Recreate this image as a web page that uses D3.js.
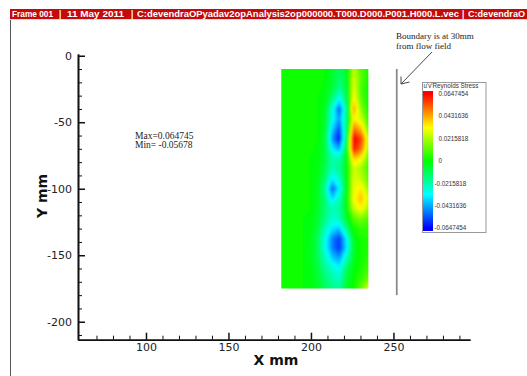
<!DOCTYPE html>
<html>
<head>
<meta charset="utf-8">
<script src="https://cdn.jsdelivr.net/npm/d3@7"></script>
<style>
  body { margin: 0; background: #fff; }
  svg { display: block; }
</style>
</head>
<body>
<svg id="chart" width="527" height="376"></svg>
<script>
// ---- measured u'v' Reynolds stress on the PIV grid (values in 1e-3) ----
const gridX = [182, 186.4, 190.8, 195.2, 199.6, 204, 208.4, 212.8, 217.2, 221.6, 226, 230.4, 234.8];
const gridY = [-10, -17.5, -25, -32.5, -40, -47.5, -55, -62.5, -70, -77.5, -85, -92.5,
               -100, -107.5, -115, -122.5, -130, -137.5, -145, -152.5, -160, -167.5, -175];
const stressUnit = 1e-3;
const stressRows = [
  [1,1,1,1,1, 1,  0,  -5, -12,  -5, 24, 10,  3],
  [1,1,1,1,1, 1,  0,  -6, -14,  -6, 27, 10,  3],
  [1,1,1,1,1, 1, -1,  -8, -20,  -8, 29,  8,  2],
  [1,1,1,1,1, 0, -2, -16, -34, -12, 34, 10,  2],
  [1,1,1,1,1, 0, -4, -28, -54, -20, 44, 16,  3],
  [1,1,1,1,1, 0, -5, -30, -46, -16, 34, 26,  6],
  [1,1,1,1,1, 0, -6, -38, -56, -16, 50, 40, 12],
  [1,1,1,1,1, 0, -8, -46, -64, -12, 66, 56, 24],
  [1,1,1,1,1,-1, -8, -34, -44,  -8, 62, 50, 20],
  [1,1,1,1,0,-1, -8, -22, -22,  -4, 38, 32, 12],
  [1,1,1,1,0,-2,-10, -24, -18,  -2, 26, 20,  8],
  [1,1,1,1,0,-3,-14, -36, -26,  -3, 28, 24, 12],
  [1,1,1,1,0,-4,-20, -54, -34,  -4, 30, 35, 18],
  [1,1,1,1,0,-4,-16, -38, -24,  -2, 32, 40, 26],
  [1,1,1,1,0,-5,-15, -24, -20,  -2, 24, 33, 20],
  [1,1,1,0,-1,-6,-17, -26, -24,  -6, 10, 15, 10],
  [1,1,1,0,-2,-8,-24, -36, -40, -18,  2,  6,  6],
  [1,1,1,0,-3,-11,-30,-48, -58, -34, -4,  3,  4],
  [1,1,1,0,-3,-11,-30,-48, -58, -36, -6,  2,  4],
  [1,1,1,0,-3,-10,-24,-38, -44, -24, -4,  2,  5],
  [1,1,1,0,-2,-8,-19, -26, -32, -13, -2,  3,  8],
  [1,1,1,0,-2,-6,-14, -21, -26,  -8,  0,  6, 14],
  [1,1,1,0,-1,-5,-12, -17, -20,  -6,  2, 12, 30]
];

// ---- axes ----
const xTicks = [100, 150, 200, 250];
const yTicks = [0, -50, -100, -150, -200];
const xMinorTicks = [70, 80, 90, 110, 120, 130, 140, 160, 170, 180, 190, 210, 220, 230, 240, 260, 270, 280, 290];
const yMinorTicks = [-10, -20, -30, -40, -60, -70, -80, -90, -110, -120, -130, -140, -160, -170, -180, -190, -210];

// ---- contour legend ----
const legendLevels = [0.0647454, 0.0431636, 0.0215818, 0, -0.0215818, -0.0431636, -0.0647454];
const colorStops = [-0.0647454, -0.0323727, 0, 0.0323727, 0.0647454];
const colorRange = ["#0000ff", "#00ffff", "#00ff00", "#ffff00", "#ff0000"];

// ---- annotations ----
const boundaryX = 252;
const boundaryY = [-10, -180];
const statsLines = ["Max=0.064745", "Min= -0.05678"];
const boundaryNote = ["Boundary is at 30mm", "from flow field"];
const headerParts = [
  { text: "Frame 001", x: 12 },
  { text: "|", x: 59 },
  { text: "11 May 2011", x: 67, len: 57 },
  { text: "|", x: 131 },
  { text: "C:devendraOPyadav2opAnalysis2op000000.T000.D000.P001.H000.L.vec", x: 137, len: 322 },
  { text: "|", x: 462 },
  { text: "C:devendraO", x: 468, len: 57 }
];

const svg = d3.select("#chart");

// scales
const xs = d3.scaleLinear().domain([58.8, 296.4]).range([78, 470]);
const ys = d3.scaleLinear().domain([1.3, -213.5]).range([54, 339.7]);
const color = d3.scaleLinear().domain(colorStops).range(colorRange).clamp(true);

// header bar
svg.append("rect").attr("x", 10).attr("y", 9).attr("width", 517).attr("height", 10).attr("fill", "#c40a0a");
const header = svg.append("g")
  .attr("font-family", "Liberation Sans, Arial, sans-serif")
  .attr("font-weight", "bold").attr("font-size", 8.3).attr("fill", "#fff");
headerParts.forEach(p => {
  const t = header.append("text").attr("x", p.x).attr("y", 17).text(p.text);
  if (p.len) t.attr("textLength", p.len).attr("lengthAdjust", "spacingAndGlyphs");
});
// frame edges
svg.append("line").attr("x1", 10.5).attr("x2", 10.5).attr("y1", 19).attr("y2", 376)
  .attr("stroke", "#555").attr("stroke-width", 1);
svg.append("line").attr("x1", 10).attr("x2", 527).attr("y1", 19.5).attr("y2", 19.5)
  .attr("stroke", "#ddd").attr("stroke-width", 1);

// ---- flood contour of the stress field ----
const nx = gridX.length, ny = gridY.length;
const flat = stressRows.flat();
const dx = gridX[1] - gridX[0], dy = gridY[1] - gridY[0];
const thresholds = d3.range(-66, 67, 2);
const contours = d3.contours().size([nx, ny]).thresholds(thresholds)(flat);
const proj = d3.geoTransform({
  point(gx, gy) {
    this.stream.point(xs(gridX[0] + (gx - 0.5) * dx), ys(gridY[0] + (gy - 0.5) * dy));
  }
});
const path = d3.geoPath(proj);

const defs = svg.append("defs");
defs.append("clipPath").attr("id", "fieldClip").append("rect")
  .attr("x", xs(gridX[0])).attr("y", ys(gridY[0]))
  .attr("width", xs(gridX[nx - 1]) - xs(gridX[0]))
  .attr("height", ys(gridY[ny - 1]) - ys(gridY[0]));
defs.append("filter").attr("id", "soft").attr("x", "-10%").attr("y", "-10%")
  .attr("width", "120%").attr("height", "120%")
  .append("feGaussianBlur").attr("stdDeviation", 1.3);

svg.append("g").attr("clip-path", "url(#fieldClip)")
  .append("g").attr("filter", "url(#soft)")
  .selectAll("path").data(contours).join("path")
  .attr("d", path)
  .attr("fill", d => color((d.value + 1) * stressUnit))
  .attr("stroke", d => color((d.value + 1) * stressUnit))
  .attr("stroke-width", 0.5);

// ---- axes ----
const axisFont = "DejaVu Sans, Verdana, sans-serif";
function styleAxis(g, w) {
  g.select(".domain").attr("stroke", "#111").attr("stroke-width", 1.6);
  g.selectAll(".tick line").attr("stroke", "#111").attr("stroke-width", w);
  g.selectAll(".tick text").attr("fill", "#222").attr("font-family", axisFont).attr("font-size", 11);
}
const yMinor = svg.append("g").attr("transform", "translate(78,0)")
  .call(d3.axisLeft(ys).tickValues(yMinorTicks).tickSize(-4).tickSizeOuter(0).tickFormat(""));
styleAxis(yMinor, 1);
const xMinor = svg.append("g").attr("transform", "translate(0,339.7)")
  .call(d3.axisBottom(xs).tickValues(xMinorTicks).tickSize(-4).tickSizeOuter(0).tickFormat(""));
styleAxis(xMinor, 1);

const yAxis = svg.append("g").attr("transform", "translate(78,0)")
  .call(d3.axisLeft(ys).tickValues(yTicks).tickSize(-7).tickSizeOuter(0).tickPadding(6).tickFormat(d3.format("d")));
styleAxis(yAxis, 1.5);
yAxis.selectAll(".tick text").text(d => d === 0 ? "0" : String(d).replace("−", "-"));
const xAxis = svg.append("g").attr("transform", "translate(0,339.7)")
  .call(d3.axisBottom(xs).tickValues(xTicks).tickSize(-7).tickSizeOuter(0).tickPadding(4));
styleAxis(xAxis, 1.5);

// axis titles
svg.append("text").attr("x", 276).attr("y", 365).attr("text-anchor", "middle")
  .attr("font-family", axisFont).attr("font-weight", "bold").attr("font-size", 14)
  .attr("fill", "#111").text("X mm");
svg.append("text").attr("transform", "translate(47,196) rotate(-90)").attr("text-anchor", "middle")
  .attr("font-family", axisFont).attr("font-weight", "bold").attr("font-size", 14)
  .attr("fill", "#111").text("Y mm");

// ---- boundary marker and notes ----
svg.append("line")
  .attr("x1", xs(boundaryX)).attr("x2", xs(boundaryX))
  .attr("y1", ys(boundaryY[0])).attr("y2", ys(boundaryY[1]))
  .attr("stroke", "#8a8a8a").attr("stroke-width", 1.8);

const serif = "Liberation Serif, Times New Roman, serif";
svg.append("g").attr("font-family", serif).attr("font-size", 9).attr("fill", "#222")
  .selectAll("text").data(boundaryNote).join("text")
  .attr("x", 396).attr("y", (d, i) => 39 + i * 10).text(d => d);
// pointer arrow
svg.append("path")
  .attr("d", "M432,52 L401,84 M401,84 L401,76.5 M401,84 L409.5,82")
  .attr("fill", "none").attr("stroke", "#333").attr("stroke-width", 0.9);

svg.append("g").attr("font-family", serif).attr("font-size", 9.5).attr("fill", "#222")
  .selectAll("text").data(statsLines).join("text")
  .attr("x", 135).attr("y", (d, i) => 139 + i * 9).text(d => d);

// ---- contour legend ----
const ly = d3.scaleLinear().domain([-0.0675, 0.0675]).range([231, 91]);
const lg = defs.append("linearGradient").attr("id", "barGrad")
  .attr("x1", 0).attr("y1", 0).attr("x2", 0).attr("y2", 1);
const barTop = ly(0.0675), barH = ly(-0.0675) - ly(0.0675);
[0.0675, ...colorStops.slice().reverse(), -0.0675].forEach(v => {
  lg.append("stop").attr("offset", (ly(v) - barTop) / barH).attr("stop-color", color(v));
});
svg.append("rect").attr("x", 422.5).attr("y", 82.5).attr("width", 63.5).attr("height", 150)
  .attr("fill", "#fff").attr("stroke", "#999").attr("stroke-width", 1);
svg.append("text").attr("x", 423.5).attr("y", 87.5)
  .attr("font-family", "Liberation Sans, Arial, sans-serif").attr("font-size", 6.3).attr("fill", "#333")
  .text("u'v'Reynolds Stress");
svg.append("rect").attr("x", 423).attr("y", barTop).attr("width", 10).attr("height", barH)
  .attr("fill", "url(#barGrad)");
svg.append("g").attr("font-family", "Liberation Sans, Arial, sans-serif").attr("font-size", 6.3).attr("fill", "#333")
  .selectAll("text").data(legendLevels).join("text")
  .attr("x", d => d < 0 ? 434.5 : 438.5)
  .attr("y", d => ly(d)).attr("dy", "0.35em")
  .text(d => String(d));
</script>
</body>
</html>
